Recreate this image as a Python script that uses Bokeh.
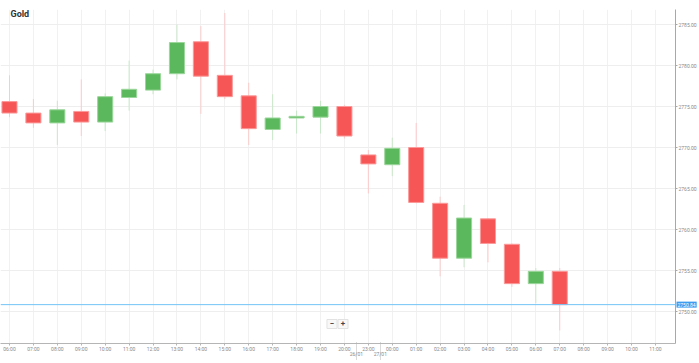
from bokeh.plotting import figure
from bokeh.models import (Range1d, FixedTicker, LinearAxis, PrintfTickFormatter,
                          Span, Label, ColumnDataSource)
from bokeh.core.properties import value
from bokeh.embed import file_html
from bokeh.resources import INLINE

title_text = "Gold"
times = ["06:00", "07:00", "08:00", "09:00", "10:00", "11:00", "12:00", "13:00",
         "14:00", "15:00", "16:00", "17:00", "18:00", "19:00", "20:00", "23:00",
         "00:00", "01:00", "02:00", "03:00", "04:00", "05:00", "06:00", "07:00",
         "08:00", "09:00", "10:00", "11:00"]
opens = [2775.6, 2774.2, 2773.0, 2774.4, 2773.1, 2776.1, 2777.0, 2779.0,
         2782.9, 2778.8, 2776.3, 2772.2, 2773.6, 2773.7, 2775.0, 2769.1,
         2767.9, 2770.0, 2763.2, 2756.5, 2761.3, 2758.2, 2753.4, 2754.9]
highs = [2778.8, 2775.9, 2775.7, 2778.3, 2776.6, 2780.6, 2779.5, 2785.0,
         2784.8, 2786.4, 2777.9, 2776.5, 2774.5, 2775.7, 2775.2, 2769.7,
         2771.2, 2773.0, 2764.0, 2763.0, 2761.4, 2758.3, 2755.3, 2755.3]
lows = [2773.7, 2772.4, 2770.3, 2771.4, 2772.0, 2774.5, 2776.5, 2778.3,
        2774.1, 2775.9, 2770.3, 2770.9, 2771.7, 2771.7, 2771.1, 2764.4,
        2766.5, 2763.2, 2754.3, 2755.4, 2756.0, 2753.0, 2751.0, 2747.7]
closes = [2774.2, 2773.0, 2774.6, 2773.1, 2776.2, 2777.1, 2779.0, 2782.8,
          2778.7, 2776.2, 2772.3, 2773.6, 2773.8, 2775.0, 2771.4, 2768.0,
          2769.9, 2763.3, 2756.5, 2761.4, 2758.3, 2753.4, 2754.9, 2750.84]
price_ticks = [2750, 2755, 2760, 2765, 2770, 2775, 2780, 2785]
last_price = 2750.84
date_labels = ["26/01", "27/01"]
date_positions = [14.5, 15.5]

GREEN = "#5cb85c"
RED = "#f75656"

n = len(opens)
xs = list(range(n))
up = [c >= o for o, c in zip(opens, closes)]
src = ColumnDataSource(dict(
    x=xs,
    top=[max(o, c) for o, c in zip(opens, closes)],
    bottom=[min(o, c) for o, c in zip(opens, closes)],
    high=highs, low=lows,
    fill=[GREEN if u else RED for u in up],
    edge=["#9bd69b" if u else "#fb9a9a" for u in up],
    wick=["#c9e8c9" if u else "#fccaca" for u in up],
))

p = figure(width=699, height=363,
           x_range=Range1d(-0.3756, 27.838), y_range=Range1d(2746.10, 2786.83),
           output_backend="svg", toolbar_location=None,
           y_axis_location="right", x_axis_location="below",
           min_border_left=0, min_border_top=9, min_border_right=23,
           min_border_bottom=20,
           background_fill_color="white", border_fill_color="white",
           outline_line_color=None)

p.xgrid.ticker = FixedTicker(ticks=list(range(len(times))))
p.xgrid.grid_line_color = "#f1f1f1"
p.ygrid.ticker = FixedTicker(ticks=price_ticks)
p.ygrid.grid_line_color = "#eeeeee"

xa = p.xaxis[0]
xa.ticker = FixedTicker(ticks=list(range(len(times))))
xa.major_label_overrides = {i: t for i, t in enumerate(times)}
xa.axis_line_color = "#b5b5b5"
xa.major_tick_line_color = "#b5b5b5"
xa.major_tick_out = 2
xa.major_tick_in = 0
xa.minor_tick_line_color = None
xa.major_label_standoff = 0
xa.major_label_text_font_size = "5px"
xa.major_label_text_color = "#8a8a8a"
xa.major_label_text_font = "Roboto"

da = LinearAxis(ticker=FixedTicker(ticks=date_positions),
                major_label_overrides={pos: lab for pos, lab in zip(date_positions, date_labels)})
da.axis_line_color = None
da.major_tick_line_color = "#b5b5b5"
da.major_tick_line_dash = "1 1"
da.major_tick_in = 12
da.major_tick_out = 5
da.minor_tick_line_color = None
da.major_label_standoff = -9
da.major_label_text_font_size = "5px"
da.major_label_text_color = "#8a8a8a"
da.major_label_text_font = "Roboto"
p.add_layout(da, "below")

ya = p.yaxis[0]
ya.ticker = FixedTicker(ticks=price_ticks)
ya.formatter = PrintfTickFormatter(format="%.2f")
ya.axis_line_color = "#a8a8a8"
ya.major_tick_line_color = "#a8a8a8"
ya.major_tick_out = 2
ya.major_tick_in = 0
ya.minor_tick_line_color = None
ya.major_label_standoff = 1
ya.major_label_text_font_size = "5px"
ya.major_label_text_color = "#8a8a8a"
ya.major_label_text_font = "Roboto"

p.segment(x0="x", y0="low", x1="x", y1="high", line_color="wick", line_width=1, source=src)
p.vbar(x="x", width=0.63, top="top", bottom="bottom", fill_color="fill",
       line_color="edge", line_width=1, source=src)

p.add_layout(Span(location=last_price, dimension="width", line_color="#74c4f6", line_width=1))

p.add_layout(Label(x=0.042, y=2786.28, text=title_text, text_font_size="9px",
                   text_font_style="bold", text_color="#333333", text_font="Roboto",
                   text_baseline="middle", text_align="left"))

p.rect(x=[13.48, 13.94], y=[2748.48, 2748.48], width=0.42, height=1.1,
       fill_color="#f8f8f8", line_color="#e2e2e2", line_width=1)
p.text(x=[13.48, 13.94], y=[2748.48, 2748.48], text=["\u2212", "+"],
       text_font=value("Roboto"), text_font_size="8px", text_font_style="bold",
       text_color="#444444", text_align="center", text_baseline="middle")

# price tag: placed in a side panel so that it is not clipped to the frame
p.add_layout(Label(x=27.838, y=last_price, x_offset=1, text=f"{last_price:.2f}",
                   text_font_size="5px", text_color="white", text_font="Roboto",
                   text_baseline="middle", text_align="left",
                   background_fill_color="#3d9cf0", padding=1), "above")

open("out.html", "w").write(file_html(p, INLINE))
